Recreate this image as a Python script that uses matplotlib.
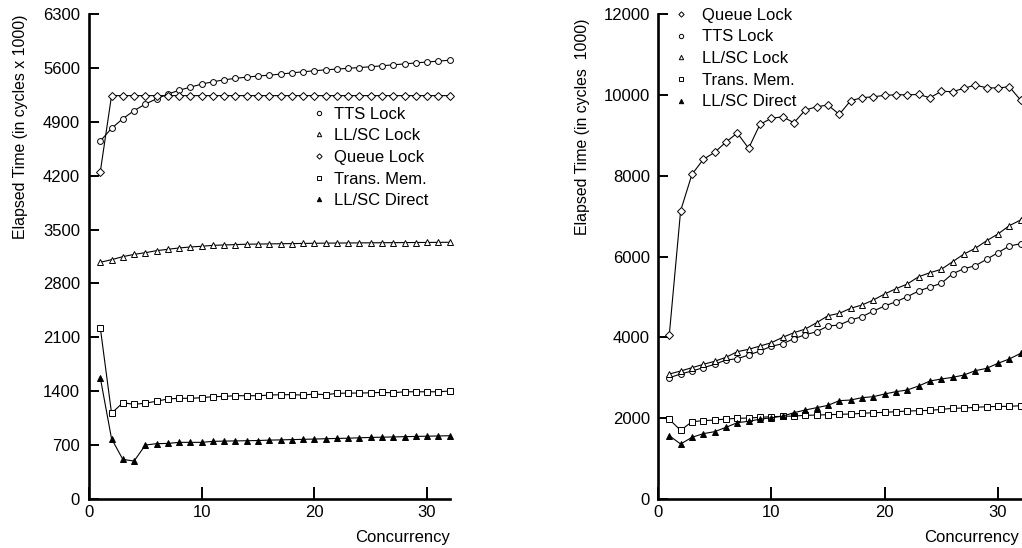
import numpy as np
import matplotlib.pyplot as plt
from matplotlib.lines import Line2D

plt.rcParams['font.family'] = ['Liberation Sans', 'DejaVu Sans']

# ------------------------------------------------------------
# Data, concurrency 1..32
# ------------------------------------------------------------
concurrency = np.arange(1, 33)

# left panel
left_tts = [4650, 4815, 4940, 5045, 5130, 5200, 5260, 5310, 5350, 5390, 5420, 5445,
            5465, 5480, 5495, 5505, 5520, 5535, 5550, 5563, 5575, 5585, 5595, 5605,
            5615, 5628, 5640, 5652, 5665, 5677, 5688, 5700]
left_llsc = [3075, 3109, 3148, 3178, 3200, 3226, 3244, 3261, 3274, 3283, 3295, 3300,
             3305, 3310, 3312, 3314, 3316, 3318, 3320, 3322, 3324, 3325, 3326, 3327,
             3328, 3329, 3330, 3331, 3332, 3333, 3334, 3335]
left_queue = [4250] + [5240] * 31
left_tm = [2225, 1115, 1250, 1230, 1245, 1270, 1300, 1308, 1308, 1316, 1330, 1333,
           1342, 1342, 1342, 1350, 1355, 1355, 1350, 1364, 1355, 1372, 1376, 1376,
           1380, 1385, 1380, 1393, 1393, 1393, 1393, 1403]
left_direct = [1576, 783, 515, 493, 701, 719, 722, 736, 736, 736, 749, 752,
               755, 757, 760, 765, 768, 772, 775, 779, 783, 787, 790, 795,
               800, 803, 806, 810, 813, 816, 819, 822]

# right panel
right_queue = [4065, 7133, 8033, 8404, 8577, 8832, 9055, 8677, 9270, 9418, 9458, 9310,
               9624, 9706, 9748, 9517, 9855, 9929, 9953, 9987, 10003, 10000, 10010, 9929,
               10087, 10080, 10161, 10243, 10176, 10170, 10202, 9871]
right_tts = [3001, 3093, 3167, 3249, 3332, 3439, 3471, 3563, 3662, 3778, 3842, 3966,
             4065, 4139, 4280, 4305, 4429, 4510, 4651, 4775, 4881, 5005, 5146, 5245,
             5336, 5574, 5698, 5772, 5930, 6094, 6259, 6316]
right_llsc = [3093, 3167, 3249, 3332, 3407, 3506, 3645, 3704, 3785, 3867, 4000, 4115,
              4206, 4362, 4535, 4594, 4718, 4800, 4923, 5072, 5203, 5319, 5500, 5599,
              5683, 5871, 6061, 6202, 6391, 6556, 6762, 6903]
right_tm = [1971, 1699, 1913, 1938, 1954, 1979, 1996, 2004, 2021, 2037, 2045, 2053,
            2070, 2078, 2086, 2095, 2103, 2120, 2136, 2144, 2160, 2177, 2185, 2193,
            2218, 2243, 2251, 2268, 2284, 2292, 2292, 2309]
right_direct = [1567, 1361, 1526, 1617, 1666, 1773, 1889, 1922, 1975, 2010, 2050, 2136,
                2202, 2260, 2317, 2433, 2449, 2507, 2532, 2598, 2656, 2697, 2796, 2919,
                2969, 3010, 3068, 3175, 3233, 3357, 3464, 3604]

left_yticks = np.arange(0, 6301, 700)
right_yticks = np.arange(0, 12001, 2000)
xticks = [0, 10, 20, 30]

# marker style per series
styles = {
    'TTS Lock': dict(marker='o', mfc='white'),
    'LL/SC Lock': dict(marker='^', mfc='white'),
    'Queue Lock': dict(marker='D', mfc='white', ms=3.6),
    'Trans. Mem.': dict(marker='s', mfc='white'),
    'LL/SC Direct': dict(marker='^', mfc='black'),
}


def draw(ax, series, ylim, yticks, ylabel, ypad, label_x, xlab_x):
    for name, vals in series:
        st = dict(styles[name])
        ms = st.pop('ms', 4.2)
        ax.plot(concurrency, vals, color='black', lw=0.8, mec='black', mew=0.7,
                ms=ms, clip_on=False, **st)
    ax.set_xlim(0, 32)
    ax.set_ylim(*ylim)
    ax.set_xticks(xticks)
    ax.set_yticks(yticks)
    for s in ['top', 'right']:
        ax.spines[s].set_visible(False)
    for s in ['left', 'bottom']:
        ax.spines[s].set_linewidth(1.9)
    ax.tick_params(axis='y', direction='in', length=7.5, width=1.4, labelsize=12, pad=ypad)
    ax.tick_params(axis='x', direction='in', length=9, width=1.4, labelsize=12, pad=4)
    ax.set_ylabel(ylabel, fontsize=11.4, va='center')
    ax.yaxis.set_label_coords(label_x, 0.767)
    ax.set_xlabel('Concurrency', fontsize=12, ha='right')
    ax.xaxis.set_label_coords(xlab_x, -0.064)


def legend(ax, names, anchor, textpad):
    handles = []
    for n in names:
        st = dict(styles[n])
        ms = st.pop('ms', 4.2)
        handles.append(Line2D([], [], ls='none', color='black', mec='black', mew=0.7,
                              ms=ms * 0.75, **st))
    ax.legend(handles, names, loc='upper left', bbox_to_anchor=anchor, frameon=False,
              fontsize=12, handlelength=0.8, handletextpad=textpad, labelspacing=0.4,
              borderpad=0, borderaxespad=0)


fig = plt.figure(figsize=(10.22, 5.48), dpi=100)
ax1 = fig.add_axes([0.0871, 0.0894, 0.3528, 0.885])
ax2 = fig.add_axes([0.6438, 0.0894, 0.3548, 0.885])

draw(ax1, [('TTS Lock', left_tts), ('LL/SC Lock', left_llsc), ('Queue Lock', left_queue),
           ('Trans. Mem.', left_tm), ('LL/SC Direct', left_direct)],
     (0, 6300), left_yticks, 'Elapsed Time (in cycles x 1000)', 6.5, -0.19, 1.0)
legend(ax1, ['TTS Lock', 'LL/SC Lock', 'Queue Lock', 'Trans. Mem.', 'LL/SC Direct'],
       (0.620, 0.809), 0.5)

draw(ax2, [('Queue Lock', right_queue), ('TTS Lock', right_tts), ('LL/SC Lock', right_llsc),
           ('Trans. Mem.', right_tm), ('LL/SC Direct', right_direct)],
     (0, 12000), right_yticks, 'Elapsed Time (in cycles  1000)', 5.8, -0.207, 0.995)
legend(ax2, ['Queue Lock', 'TTS Lock', 'LL/SC Lock', 'Trans. Mem.', 'LL/SC Direct'],
       (0.045, 1.013), 0.85)

fig.savefig('out.png', dpi=100)
